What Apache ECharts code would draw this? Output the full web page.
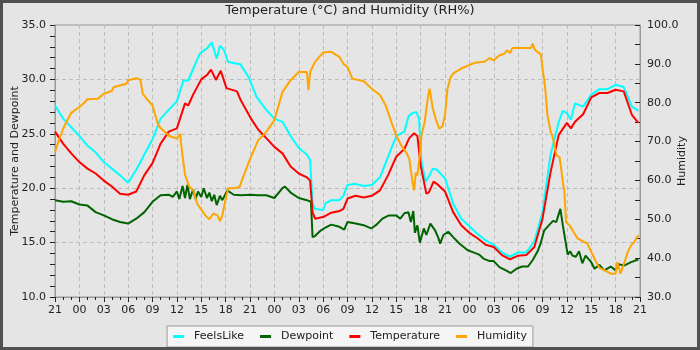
<!DOCTYPE html>
<html>
<head>
<meta charset="utf-8">
<script src="https://cdn.jsdelivr.net/npm/echarts@6/dist/echarts.min.js"></script>
<style>
  html, body { margin: 0; padding: 0; }
  #chart { width: 700px; height: 350px; }
</style>
</head>
<body>
<div id="chart"></div>
<script>
// hours since the first tick (21:00), value
const startHour = 21;

const feelsLike = [
  [0,27.6],[0.5,27.0],[1,26.4],[2,25.6],[3,24.8],[4,23.9],[5,23.3],[6,22.4],[7,21.8],[8,21.2],[9,20.5],
  [10,21.7],[11,23.1],[12,24.5],[13,26.4],[14,27.2],[15,28.0],[15.8,29.9],[16.4,29.9],[17.2,31.3],
  [17.85,32.4],[18.7,32.85],[19.3,33.4],[19.9,31.9],[20.3,33.1],[20.8,32.7],[21.3,31.6],[22.8,31.4],
  [23.8,30.25],[24.8,28.4],[26,27.2],[27,26.4],[28,26.1],[29,24.8],[30,23.7],[31,23.1],[31.4,22.6],
  [31.7,18.6],[32,18.1],[33,18.0],[33.3,18.6],[34,18.9],[35,18.9],[35.5,19.3],[36,20.3],[37,20.4],
  [38,20.2],[39,20.3],[40,21.0],[41,22.9],[42,24.8],[43,25.2],[43.5,26.6],[44,26.9],[44.5,27.0],
  [44.8,26.4],[45.1,22.5],[45.6,20.6],[46.1,21.2],[46.5,21.8],[47,21.7],[48,20.9],[49,18.6],[50,17.2],
  [51,16.5],[52,15.8],[53,15.2],[54,14.8],[55,14.1],[56,13.7],[57,14.1],[58,14.1],[59,15.1],[60,17.8],
  [61,23.1],[62,26.1],[62.5,27.1],[63,26.9],[63.5,26.3],[64,27.8],[65,27.5],[66,28.6],[67,29.1],
  [68,29.1],[69,29.5],[70,29.3],[71,27.5],[71.8,27.1]
];

const dewpoint = [
  [0,18.9],[1,18.75],[2,18.8],[3,18.5],[4,18.4],[5,17.8],[6,17.5],[7,17.15],[8,16.9],[9,16.75],
  [10,17.2],[11,17.8],[12,18.75],[13,19.35],[14,19.4],[14.5,19.2],[15,19.7],[15.3,19.0],[15.7,20.2],
  [16,19.1],[16.3,20.3],[16.6,19.0],[17,19.9],[17.3,19.0],[17.6,19.7],[18,19.2],[18.3,20.0],[18.7,19.1],
  [19,19.6],[19.3,18.8],[19.6,19.4],[19.9,18.45],[20.3,19.3],[20.6,18.9],[21.2,19.8],[22,19.4],
  [23,19.35],[24,19.4],[25,19.35],[26,19.35],[27,19.1],[28,20.0],[28.3,20.15],[29,19.6],[30,19.1],
  [31,18.9],[31.5,18.75],[31.7,15.5],[32,15.6],[32.6,16.05],[33.1,16.3],[34,16.65],[35,16.45],
  [35.6,16.2],[36,16.9],[37,16.75],[38,16.6],[38.9,16.3],[39.5,16.6],[40.3,17.2],[41.1,17.5],[42,17.5],
  [42.5,17.2],[43,17.7],[43.5,17.8],[43.8,16.9],[44.1,17.9],[44.3,15.9],[44.6,16.6],[44.9,15.0],
  [45.4,16.3],[45.7,15.7],[46.2,16.75],[46.8,16.1],[47.2,15.4],[47.4,14.9],[47.8,15.7],[48.4,16.0],
  [49,15.5],[49.8,14.9],[50.8,14.3],[51.5,14.1],[52.2,13.9],[52.8,13.5],[53.5,13.3],[54,13.3],
  [54.7,12.75],[55.5,12.45],[56.1,12.2],[56.8,12.6],[57.5,12.8],[58.2,12.8],[58.8,13.4],[59.4,14.2],
  [59.8,15.0],[60.2,16.1],[60.8,16.6],[61.3,17.0],[61.7,16.9],[61.95,17.5],[62.2,18.1],[62.5,16.6],
  [62.7,15.7],[63.1,13.9],[63.4,14.2],[63.7,13.8],[64.1,13.7],[64.5,14.2],[64.9,13.1],[65.3,13.8],
  [66,13.2],[66.4,12.6],[67,12.95],[67.6,12.45],[68.4,12.8],[69,12.45],[69.3,13.0],[70.1,12.9],
  [70.9,13.2],[71.8,13.45]
];

const temperature = [
  [0,25.2],[1,24.1],[2,23.2],[3,22.4],[4,21.8],[5,21.35],[6,20.7],[7,20.15],[8,19.5],[9,19.4],
  [10,19.7],[11,21.2],[12,22.3],[13,24.1],[14,25.2],[15,25.5],[16,27.8],[16.4,27.6],[17,28.6],
  [18,30.0],[18.7,30.4],[19.2,30.9],[19.8,29.95],[20.4,30.8],[21.1,29.2],[22.4,28.9],[22.85,28.1],
  [24.2,26.3],[25,25.4],[26,24.6],[27,23.8],[28,23.2],[29,22.0],[30,21.35],[31,21.0],[31.4,20.7],
  [31.7,17.8],[32,17.2],[33,17.35],[34,17.75],[35,17.9],[35.5,18.1],[36,19.05],[37,19.3],[38,19.15],
  [39,19.3],[40,19.8],[41,21.2],[42,22.9],[43,23.6],[43.6,24.6],[44.2,25.05],[44.6,24.8],[45,22.1],
  [45.7,19.5],[46,19.6],[46.6,20.6],[47,20.4],[48,19.7],[49,17.8],[50,16.6],[51,15.9],[52,15.4],
  [53,14.8],[54,14.6],[55,13.85],[56,13.45],[57,13.8],[58,13.85],[59,14.6],[60,17.2],[61,21.5],
  [62,24.9],[63,26.0],[63.5,25.5],[64,26.1],[65,26.8],[66,28.35],[67,28.75],[68,28.75],[69,29.05],
  [70,28.9],[71,26.75],[71.8,26.0]
];

const humidity = [
  [0,67.3],[0.5,70.5],[1,73.3],[1.4,75.0],[2,77.4],[3,78.9],[3.7,80.2],[4,80.9],[5.3,81.05],[6,82.3],
  [7,83.0],[7.2,84.0],[8.8,84.9],[9,85.8],[10,86.3],[10.5,86.0],[10.8,82.3],[11,82.5],[11.5,80.5],
  [12,79.3],[12.7,74.2],[13,73.5],[14,71.5],[15,70.8],[15.4,72.0],[15.6,68.0],[16,61.5],[16.5,58.5],
  [17,57.5],[17.5,54.0],[18,52.5],[18.5,51.0],[19,50.0],[19.5,51.5],[20,51.0],[20.3,49.5],[20.6,51.0],
  [20.9,54.2],[21.3,58.0],[22,58.0],[22.7,58.3],[23,60.0],[24,65.5],[25,70.3],[26,72.5],[27,75.5],
  [28,82.8],[29,85.8],[30,87.9],[31,87.9],[31.2,83.2],[31.4,87.9],[32,90.5],[33,92.9],[34,93.1],
  [35,91.8],[35.5,90.0],[36,89.2],[36.6,86.2],[38,85.5],[39,83.6],[40,82.0],[40.7,79.3],[41.4,75.0],
  [42,71.6],[42.6,69.0],[43.2,67.3],[43.6,65.6],[44,59.6],[44.2,57.4],[44.4,62.0],[44.6,61.3],
  [44.9,66.5],[45.1,71.6],[45.5,75.05],[45.9,81.5],[46.1,83.6],[46.5,78.5],[46.9,75.5],[47.3,73.3],
  [47.7,74.0],[48,76.8],[48.3,83.6],[48.7,86.6],[49.1,87.7],[50,88.8],[50.9,89.6],[51.7,90.3],
  [52.9,90.6],[53.5,91.5],[54,90.9],[54.7,92.2],[55.3,92.6],[55.6,93.5],[56,92.8],[56.3,94.1],
  [58.6,94.1],[58.8,95.2],[59,93.8],[59.4,93.0],[59.8,92.5],[60,88.8],[60.3,84.5],[60.6,77.0],
  [61,72.5],[61.3,70.8],[61.7,66.5],[62.1,66.0],[62.3,63.0],[62.5,59.6],[62.7,57.0],[62.9,49.3],
  [63.3,48.5],[63.7,47.2],[64.3,45.1],[65.1,44.2],[65.5,43.8],[66,41.6],[66.6,39.0],[67,37.5],
  [67.6,36.9],[68.4,36.0],[69,36.0],[69.2,39.0],[69.6,36.0],[70.1,39.0],[70.5,41.6],[70.9,43.3],
  [71.3,44.2],[71.8,45.9]
];

const font = 'DejaVu Sans';
const ink = '#222';
const gridDash = { color: '#bdbdbd', type: [4, 3], width: 1 };

const chart = echarts.init(document.getElementById('chart'));

const lineSeries = (name, data, color, axis) => ({
  name,
  type: 'line',
  data,
  yAxisIndex: axis,
  showSymbol: false,
  symbol: 'none',
  lineStyle: { width: 2, color },
  itemStyle: { color },
});

chart.setOption({
  animation: false,
  backgroundColor: '#e5e5e5',
  textStyle: { fontFamily: font },
  title: {
    text: 'Temperature (°C) and Humidity (RH%)',
    left: 'center',
    top: 4,
    padding: 0,
    textStyle: { fontFamily: font, fontSize: 13, fontWeight: 'normal', color: ink },
  },
  legend: {
    left: 'center',
    top: 326,
    padding: [5, 6, 5, 6],
    itemGap: 16,
    itemWidth: 11,
    itemHeight: 3,
    icon: 'rect',
    backgroundColor: '#f5f5f5',
    borderColor: '#999',
    borderWidth: 1,
    textStyle: { fontFamily: font, fontSize: 11, color: ink, padding: [0, 0, 0, 5] },
  },
  graphic: [{
    type: 'rect',
    silent: true,
    z: 100,
    shape: { x: 1.5, y: 1.5, width: 697, height: 347 },
    style: { fill: 'none', stroke: '#505050', lineWidth: 3 },
  }],
  grid: {
    left: 55, right: 60, top: 25, bottom: 53,
    outerBoundsMode: 'none',
    containLabel: false,
    show: true,
    borderColor: '#999',
    borderWidth: 1,
    backgroundColor: 'transparent',
  },
  xAxis: {
    type: 'value',
    min: 0,
    max: 72,
    interval: 3,
    axisLine: { lineStyle: { color: '#999' } },
    axisTick: { length: 5, lineStyle: { color: ink } },
    minorTick: { show: true, splitNumber: 3, length: 3, lineStyle: { color: ink } },
    splitLine: { show: true, lineStyle: gridDash },
    axisLabel: {
      fontFamily: font, fontSize: 11, color: ink, margin: 8,
      formatter: v => String((startHour + v) % 24).padStart(2, '0'),
    },
  },
  yAxis: [
    {
      type: 'value',
      min: 10,
      max: 35,
      interval: 5,
      name: 'Temperature and Dewpoint',
      nameLocation: 'middle',
      nameGap: 34,
      nameMoveOverlap: false,
      nameTextStyle: { fontFamily: font, fontSize: 11, color: ink },
      axisLine: { show: true, lineStyle: { color: '#999' } },
      axisTick: { show: true, length: 5, lineStyle: { color: ink } },
      minorTick: { show: true, splitNumber: 5, length: 5, lineStyle: { color: ink } },
      splitLine: { show: true, lineStyle: gridDash },
      axisLabel: { fontFamily: font, fontSize: 11, color: ink, margin: 9, formatter: v => v.toFixed(1) },
    },
    {
      type: 'value',
      position: 'right',
      min: 30,
      max: 100,
      interval: 10,
      name: 'Humidity',
      nameLocation: 'middle',
      nameGap: 37,
      nameMoveOverlap: false,
      nameTextStyle: { fontFamily: font, fontSize: 11, color: ink },
      axisLine: { show: true, lineStyle: { color: '#999' } },
      axisTick: { show: true, inside: true, length: 5, lineStyle: { color: ink } },
      minorTick: { show: true, splitNumber: 2, length: 5, lineStyle: { color: ink } },
      splitLine: { show: false },
      axisLabel: { fontFamily: font, fontSize: 11, color: ink, margin: 7, formatter: v => v.toFixed(1) },
    },
  ],
  series: [
    lineSeries('FeelsLike', feelsLike, '#00ffff', 0),
    lineSeries('Dewpoint', dewpoint, '#006400', 0),
    lineSeries('Temperature', temperature, '#ff0000', 0),
    lineSeries('Humidity', humidity, '#ffa500', 1),
  ],
});
</script>
</body>
</html>
